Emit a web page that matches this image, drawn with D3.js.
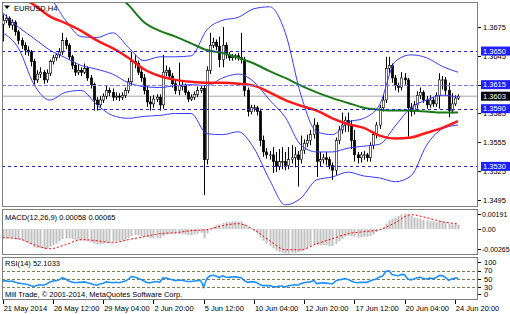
<!DOCTYPE html>
<html>
<head>
<meta charset="utf-8">
<script src="https://cdn.jsdelivr.net/npm/d3@7/dist/d3.min.js"></script>
<style>
body { margin: 0; background: #fff; }
text { font-family: "Liberation Sans", Arial, sans-serif; font-size: 7.5px; fill: #000; }
</style>
</head>
<body>
<div id="chart"></div>
<script>
const width = 510;
const height = 314;
const symbolTitle = "EURUSD,H4";
const macdTitle = "MACD(12,26,9) 0.00058 0.00065";
const rsiTitle = "RSI(14) 52.1033";
const copyright = "Mill Trade, © 2001-2014, MetaQuotes Software Corp.";

// H4 candles, one per bar, oldest first
const open = [
1.3678,1.3682,1.3684,1.3677,1.3680,1.3670,1.3661,1.3656,1.3651,1.3649,
1.3639,1.3620,1.3626,1.3628,1.3620,1.3627,1.3639,1.3643,1.3646,1.3649,
1.3661,1.3656,1.3644,1.3635,1.3628,1.3630,1.3628,1.3632,1.3622,1.3615,
1.3599,1.3594,1.3599,1.3603,1.3609,1.3607,1.3602,1.3603,1.3602,1.3604,
1.3609,1.3618,1.3639,1.3637,1.3628,1.3622,1.3609,1.3597,1.3595,1.3600,
1.3602,1.3594,1.3628,1.3630,1.3624,1.3616,1.3609,1.3614,1.3614,1.3607,
1.3600,1.3602,1.3605,1.3609,1.3611,1.3537,1.3630,1.3656,1.3659,1.3655,
1.3641,1.3656,1.3646,1.3643,1.3644,1.3645,1.3643,1.3641,1.3609,1.3587,
1.3591,1.3591,1.3587,1.3557,1.3545,1.3542,1.3542,1.3535,1.3530,1.3535,
1.3535,1.3531,1.3537,1.3539,1.3542,1.3537,1.3547,1.3554,1.3557,1.3563,
1.3573,1.3535,1.3537,1.3539,1.3537,1.3531,1.3526,1.3557,1.3568,1.3573,
1.3578,1.3573,1.3557,1.3542,1.3539,1.3542,1.3542,1.3539,1.3552,1.3563,
1.3573,1.3591,1.3599,1.3632,1.3635,1.3622,1.3614,1.3612,1.3622,1.3620,
1.3591,1.3587,1.3594,1.3604,1.3607,1.3599,1.3594,1.3599,1.3595,1.3604,
1.3620,1.3620,1.3609,1.3588,1.3595,1.3601];
const close = [
1.3682,1.3684,1.3677,1.3680,1.3670,1.3661,1.3656,1.3651,1.3649,1.3639,
1.3620,1.3626,1.3628,1.3620,1.3627,1.3639,1.3643,1.3646,1.3649,1.3661,
1.3656,1.3644,1.3635,1.3628,1.3630,1.3628,1.3632,1.3622,1.3615,1.3599,
1.3594,1.3599,1.3603,1.3609,1.3607,1.3602,1.3603,1.3602,1.3604,1.3609,
1.3618,1.3639,1.3637,1.3628,1.3622,1.3609,1.3597,1.3595,1.3600,1.3602,
1.3594,1.3628,1.3630,1.3624,1.3616,1.3609,1.3614,1.3614,1.3607,1.3600,
1.3602,1.3605,1.3609,1.3611,1.3537,1.3630,1.3656,1.3659,1.3655,1.3641,
1.3656,1.3646,1.3643,1.3644,1.3645,1.3643,1.3641,1.3609,1.3587,1.3591,
1.3591,1.3587,1.3557,1.3545,1.3542,1.3542,1.3535,1.3530,1.3535,1.3535,
1.3531,1.3537,1.3539,1.3542,1.3537,1.3547,1.3554,1.3557,1.3563,1.3573,
1.3535,1.3537,1.3539,1.3537,1.3531,1.3526,1.3557,1.3568,1.3573,1.3578,
1.3573,1.3557,1.3542,1.3539,1.3542,1.3542,1.3539,1.3552,1.3563,1.3573,
1.3591,1.3599,1.3632,1.3635,1.3622,1.3614,1.3612,1.3622,1.3620,1.3591,
1.3587,1.3594,1.3604,1.3607,1.3599,1.3594,1.3599,1.3595,1.3604,1.3620,
1.3620,1.3609,1.3588,1.3595,1.3601,1.3603];
const high = [
1.3688,1.3688,1.3686,1.3683,1.3682,1.3672,1.3664,1.3659,1.3655,1.3651,
1.3642,1.3630,1.3633,1.3630,1.3631,1.3641,1.3646,1.3648,1.3653,1.3669,
1.3664,1.3658,1.3646,1.3638,1.3636,1.3633,1.3637,1.3634,1.3625,1.3617,
1.3602,1.3603,1.3606,1.3614,1.3612,1.3611,1.3607,1.3606,1.3607,1.3612,
1.3622,1.3649,1.3646,1.3640,1.3631,1.3626,1.3614,1.3603,1.3604,1.3605,
1.3605,1.3646,1.3635,1.3633,1.3627,1.3620,1.3638,1.3619,1.3616,1.3609,
1.3605,1.3608,1.3613,1.3614,1.3614,1.3634,1.3669,1.3664,1.3662,1.3665,
1.3675,1.3659,1.3649,1.3647,1.3647,1.3648,1.3669,1.3644,1.3612,1.3594,
1.3594,1.3593,1.3590,1.3562,1.3549,1.3546,1.3550,1.3545,1.3548,1.3550,
1.3545,1.3550,1.3552,1.3550,1.3546,1.3562,1.3558,1.3563,1.3568,1.3580,
1.3576,1.3545,1.3543,1.3545,1.3540,1.3534,1.3560,1.3572,1.3586,1.3582,
1.3586,1.3578,1.3568,1.3545,1.3545,1.3546,1.3544,1.3555,1.3566,1.3576,
1.3594,1.3604,1.3644,1.3644,1.3637,1.3625,1.3617,1.3628,1.3627,1.3622,
1.3596,1.3598,1.3608,1.3612,1.3609,1.3603,1.3604,1.3602,1.3607,1.3627,
1.3624,1.3623,1.3617,1.3606,1.3604,1.3605];
const low = [
1.3660,1.3679,1.3674,1.3672,1.3666,1.3657,1.3652,1.3646,1.3645,1.3634,
1.3615,1.3617,1.3622,1.3616,1.3617,1.3624,1.3636,1.3640,1.3643,1.3646,
1.3652,1.3641,1.3631,1.3624,1.3625,1.3624,1.3626,1.3619,1.3611,1.3588,
1.3588,1.3591,1.3596,1.3600,1.3603,1.3598,1.3599,1.3598,1.3599,1.3601,
1.3606,1.3614,1.3632,1.3625,1.3618,1.3605,1.3592,1.3588,1.3591,1.3597,
1.3588,1.3590,1.3624,1.3620,1.3612,1.3605,1.3604,1.3609,1.3604,1.3597,
1.3598,1.3599,1.3602,1.3606,1.3500,1.3532,1.3626,1.3653,1.3651,1.3633,
1.3633,1.3642,1.3640,1.3640,1.3641,1.3640,1.3637,1.3603,1.3582,1.3584,
1.3587,1.3583,1.3551,1.3540,1.3538,1.3537,1.3523,1.3524,1.3526,1.3527,
1.3526,1.3527,1.3533,1.3529,1.3509,1.3533,1.3543,1.3550,1.3552,1.3559,
1.3519,1.3530,1.3533,1.3531,1.3527,1.3516,1.3521,1.3553,1.3564,1.3566,
1.3566,1.3548,1.3535,1.3533,1.3534,1.3537,1.3535,1.3535,1.3548,1.3559,
1.3569,1.3587,1.3596,1.3627,1.3617,1.3609,1.3607,1.3609,1.3615,1.3561,
1.3582,1.3584,1.3590,1.3600,1.3596,1.3590,1.3591,1.3592,1.3592,1.3590,
1.3610,1.3604,1.3581,1.3585,1.3593,1.3599];

// indicator lines, read every 5th bar
const lineIdx = [0,5,10,15,20,25,30,35,40,45,50,55,60,65,70,75,80,85,90,95,100,105,110,115,120,125,130,135,140,145];
const maRed = [1.3713,1.3707,1.3698,1.3686,1.3679,1.3671,1.3661,1.3653,1.3643,1.3631,1.3624,1.3620,1.3618,1.3617,1.3617,1.3616,1.3614,1.3607,1.3599,1.3593,1.3588,1.3580,1.3574,1.3570,1.3562,1.3559,1.3560,1.3565,1.3570,1.3577];
const maGreen = [null,null,null,null,null,null,null,1.3712,1.3698,1.3680,1.3671,1.3665,1.3658,1.3651,1.3648,1.3643,1.3637,1.3629,1.3622,1.3614,1.3607,1.3601,1.3596,1.3591,1.3589,1.3588,1.3588,1.3587,1.3586,1.3586];
const bbUpper = [1.3729,1.3719,1.3711,1.3705,1.3682,1.3665,1.3664,1.3669,1.3654,1.3640,1.3644,1.3644,1.3645,1.3672,1.3682,1.3685,1.3694,1.3696,1.3669,1.3604,1.3566,1.3563,1.3576,1.3580,1.3594,1.3639,1.3646,1.3643,1.3634,1.3628];
const bbMiddle = [1.3690,1.3675,1.3663,1.3651,1.3643,1.3635,1.3631,1.3626,1.3617,1.3613,1.3612,1.3614,1.3615,1.3614,1.3622,1.3626,1.3618,1.3599,1.3581,1.3552,1.3545,1.3545,1.3549,1.3551,1.3553,1.3572,1.3591,1.3599,1.3604,1.3602];
const bbLower = [1.3669,1.3653,1.3615,1.3599,1.3607,1.3609,1.3594,1.3583,1.3580,1.3582,1.3583,1.3585,1.3585,1.3564,1.3563,1.3566,1.3549,1.3516,1.3490,1.3497,1.3516,1.3519,1.3524,1.3520,1.3518,1.3514,1.3520,1.3552,1.3569,1.3573];

const macdHist = [
-0.0012,-0.0012,-0.0012,-0.0012,-0.0013,-0.0014,-0.0015,-0.0016,-0.0018,-0.0020,
-0.0024,-0.0025,-0.0025,-0.0026,-0.0025,-0.0023,-0.0021,-0.0019,-0.0016,-0.0013,
-0.0012,-0.0012,-0.0013,-0.0014,-0.0014,-0.0015,-0.0015,-0.0016,-0.0017,-0.0019,
-0.0020,-0.0020,-0.0019,-0.0018,-0.0017,-0.0017,-0.0016,-0.0016,-0.0015,-0.0014,
-0.0012,-0.0009,-0.0008,-0.0008,-0.0009,-0.0010,-0.0011,-0.0012,-0.0012,-0.0012,
-0.0012,-0.0009,-0.0007,-0.0006,-0.0006,-0.0007,-0.0007,-0.0007,-0.0007,-0.0008,
-0.0008,-0.0007,-0.0006,-0.0005,-0.0012,-0.0006,-0.0001,0.0003,0.0005,0.0006,
0.0008,0.0009,0.0009,0.0010,0.0010,0.0010,0.0010,0.0007,0.0003,0.0000,
-0.0003,-0.0006,-0.0011,-0.0015,-0.0019,-0.0022,-0.0025,-0.0028,-0.0030,-0.0031,
-0.0032,-0.0032,-0.0031,-0.0031,-0.0030,-0.0029,-0.0027,-0.0025,-0.0023,-0.0020,
-0.0021,-0.0021,-0.0021,-0.0021,-0.0022,-0.0022,-0.0019,-0.0016,-0.0013,-0.0010,
-0.0009,-0.0009,-0.0010,-0.0011,-0.0011,-0.0010,-0.0010,-0.0009,-0.0007,-0.0004,
-0.0001,0.0002,0.0007,0.0011,0.0013,0.0015,0.0017,0.0019,0.0020,0.0019,
0.0017,0.0015,0.0014,0.0013,0.0012,0.0011,0.0010,0.0010,0.0009,0.0010,
0.0010,0.0009,0.0007,0.0006,0.0006,0.00058];
const macdSignal = [-0.00113,-0.00126,-0.00204,-0.00256,-0.00204,-0.00139,-0.00152,-0.00178,-0.00139,-0.00100,-0.00061,-0.00048,-0.00022,-0.00009,0.00043,0.00069,-0.00009,-0.00152,-0.00269,-0.00269,-0.00191,-0.00126,-0.00061,-0.00035,-0.00009,0.00082,0.00186,0.00147,0.00095,0.00065];

const rsi = [
45,46,44,45,42,40,39,38,37,34,
32,35,36,35,38,43,45,46,48,53,
50,45,43,41,42,42,43,41,39,36,
35,38,40,43,42,41,42,41,43,45,
49,56,55,52,49,45,41,41,43,44,
42,52,52,50,48,46,47,47,45,44,
44,45,46,47,31,51,57,59,57,53,
58,55,54,55,55,54,53,46,42,43,
43,41,36,34,34,34,32,31,33,33,
31,34,35,36,35,39,41,42,43,47,
39,40,41,40,39,38,45,48,49,51,
49,45,42,41,42,42,42,45,48,50,
55,57,68,70,61,59,58,61,60,50,
48,50,53,54,51,50,52,51,53,58,
58,54,47,50,52,52.1];
const rsiLevels = [70, 50, 30];
const rsiTicks = [100, 70, 50, 30, 0];

const priceTicks = [1.3675, 1.3645, 1.3615, 1.3585, 1.3555, 1.3525, 1.3495];
const levelLines = [1.3650, 1.3615, 1.3590, 1.3530];
const bidPrice = 1.3603;
const macdTicks = [0.00191, 0, -0.00265];
const macdTickText = ["0.00191", "0.00", "-0.00265"];

const timeIdx = [0, 16, 32, 48, 64, 80, 96, 112, 128, 144];
const timeLabels = ["21 May 2014", "26 May 12:00", "29 May 04:00", "2 Jun 20:00", "5 Jun 12:00",
                    "10 Jun 04:00", "12 Jun 20:00", "17 Jun 12:00", "20 Jun 04:00", "24 Jun 20:00"];

// layout
const left = 2, right = 478;
const mainTop = 2, mainBottom = 207;
const macdTop = 209, macdBottom = 255;
const rsiTop = 257, rsiBottom = 300;
const frameColor = "#808080";
const levelBlue = "#1f1fff";

const x = d3.scaleLinear().domain([0, 145]).range([2.7, 458]);
const yPrice = d3.scaleLinear().domain([1.3495, 1.3675]).range([200, 27]);
const yMacd = d3.scaleLinear().domain([-0.00265, 0.00191]).range([249.4, 214.3]);
const yRsi = d3.scaleLinear().domain([0, 100]).range([299.8, 258.2]);

const svg = d3.select("#chart")
    .append("svg")
        .attr("width", width)
        .attr("height", height)
        .style("background", "#fff");

const defs = svg.append("defs");
[["clipMain", mainTop, mainBottom], ["clipMacd", macdTop, macdBottom], ["clipRsi", rsiTop, rsiBottom]]
    .forEach(c => {
        defs.append("clipPath").attr("id", c[0])
            .append("rect")
            .attr("x", left).attr("y", c[1])
            .attr("width", right - left).attr("height", c[2] - c[1]);
    });

function sampled(vals) {
    return lineIdx.map((i, k) => ({i: i, v: vals[k]}));
}

// ---------- main price window ----------
const main = svg.append("g").attr("clip-path", "url(#clipMain)");

main.append("line")
    .attr("x1", left).attr("x2", right)
    .attr("y1", yPrice(bidPrice)).attr("y2", yPrice(bidPrice))
    .attr("stroke", "#a8a8a8").attr("stroke-width", 1);

const bars = d3.range(close.length);

main.append("g").selectAll("line")
    .data(bars)
    .enter()
    .append("line")
        .attr("x1", i => Math.round(x(i)) + 0.5)
        .attr("x2", i => Math.round(x(i)) + 0.5)
        .attr("y1", i => yPrice(high[i]))
        .attr("y2", i => yPrice(low[i]))
        .attr("stroke", "#000")
        .attr("stroke-width", 1);

main.append("g").selectAll("rect")
    .data(bars)
    .enter()
    .append("rect")
        .attr("x", i => Math.round(x(i)) - 0.7)
        .attr("width", 2.4)
        .attr("y", i => yPrice(Math.max(open[i], close[i])))
        .attr("height", i => Math.max(0.8, Math.abs(yPrice(open[i]) - yPrice(close[i]))))
        .attr("fill", i => close[i] >= open[i] ? "#fff" : "#000")
        .attr("stroke", "#000")
        .attr("stroke-width", 0.6);

const priceLine = d3.line()
    .defined(d => d.v != null)
    .x(d => x(d.i))
    .y(d => yPrice(d.v))
    .curve(d3.curveMonotoneX);

[bbUpper, bbMiddle, bbLower].forEach(vals => {
    main.append("path")
        .attr("d", priceLine(sampled(vals)))
        .attr("fill", "none")
        .attr("stroke", "#3a3aff")
        .attr("stroke-width", 1);
});

main.append("path")
    .attr("d", priceLine(sampled(maGreen)))
    .attr("fill", "none")
    .attr("stroke", "#1a7a1a")
    .attr("stroke-width", 2);

main.append("path")
    .attr("d", priceLine(sampled(maRed)))
    .attr("fill", "none")
    .attr("stroke", "#ff1a1a")
    .attr("stroke-width", 2.5);

main.append("g").selectAll("line")
    .data(levelLines)
    .enter()
    .append("line")
        .attr("x1", left).attr("x2", right)
        .attr("y1", d => Math.round(yPrice(d)) + 0.5)
        .attr("y2", d => Math.round(yPrice(d)) + 0.5)
        .attr("stroke", d => d === 1.3615 ? "#7b7bff" : "#2222dd")
        .attr("stroke-dasharray", d => d === 1.3615 ? "4,2" : "3,3")
        .attr("stroke-width", 1);

// title with the small dropdown triangle
svg.append("path")
    .attr("d", "M4,5.5L10,5.5L7,9Z")
    .attr("fill", "#000");
svg.append("text")
    .attr("x", 14).attr("y", 10.5)
    .text(symbolTitle);

// ---------- MACD window ----------
const macd = svg.append("g").attr("clip-path", "url(#clipMacd)");

macd.append("g").selectAll("rect")
    .data(bars)
    .enter()
    .append("rect")
        .attr("x", i => Math.round(x(i)) - 0.5)
        .attr("width", 2)
        .attr("y", i => Math.min(yMacd(0), yMacd(macdHist[i])))
        .attr("height", i => Math.abs(yMacd(macdHist[i]) - yMacd(0)))
        .attr("fill", "#c0c0c0");

macd.append("path")
    .attr("d", d3.line().x(d => x(d.i)).y(d => yMacd(d.v)).curve(d3.curveMonotoneX)(sampled(macdSignal)))
    .attr("fill", "none")
    .attr("stroke", "#ff0000")
    .attr("stroke-width", 1)
    .attr("stroke-dasharray", "2,2");

svg.append("text")
    .attr("x", 5).attr("y", 219.5)
    .text(macdTitle);

// ---------- RSI window ----------
const rsiG = svg.append("g").attr("clip-path", "url(#clipRsi)");

rsiG.append("g").selectAll("line")
    .data(rsiLevels)
    .enter()
    .append("line")
        .attr("x1", left).attr("x2", right)
        .attr("y1", d => Math.round(yRsi(d)) + 0.5)
        .attr("y2", d => Math.round(yRsi(d)) + 0.5)
        .attr("stroke", "#7d7d52")
        .attr("stroke-dasharray", "3,2")
        .attr("stroke-width", 1);

rsiG.append("path")
    .attr("d", d3.line().x((d, i) => x(i)).y(d => yRsi(d))(rsi))
    .attr("fill", "none")
    .attr("stroke", "#1e90ff")
    .attr("stroke-width", 1.6);

svg.append("text")
    .attr("x", 5).attr("y", 266)
    .text(rsiTitle);

svg.append("text")
    .attr("x", 5).attr("y", 297)
    .text(copyright);

// ---------- frames ----------
[[mainTop, mainBottom], [macdTop, macdBottom], [rsiTop, rsiBottom]].forEach(p => {
    svg.append("rect")
        .attr("x", left + 0.5).attr("y", p[0] + 0.5)
        .attr("width", right - left - 1).attr("height", p[1] - p[0] - 1)
        .attr("fill", "none")
        .attr("stroke", frameColor)
        .attr("stroke-width", 1);
});

// ---------- right price scale ----------
const axisG = svg.append("g");

axisG.selectAll(".ptick")
    .data(priceTicks)
    .enter()
    .append("line")
        .attr("x1", right).attr("x2", right + 3)
        .attr("y1", d => Math.round(yPrice(d)) + 0.5)
        .attr("y2", d => Math.round(yPrice(d)) + 0.5)
        .attr("stroke", "#000");

// a tick label that sits exactly under a level box is not drawn
axisG.selectAll(".plabel")
    .data(priceTicks.filter(d => levelLines.indexOf(d) < 0))
    .enter()
    .append("text")
        .attr("x", right + 5)
        .attr("y", d => yPrice(d) + 2.8)
        .text(d => d.toFixed(4));

levelLines.forEach(v => {
    axisG.append("rect")
        .attr("x", right + 3).attr("y", yPrice(v) - 4.5)
        .attr("width", 29).attr("height", 9)
        .attr("fill", levelBlue);
    axisG.append("text")
        .attr("x", right + 5).attr("y", yPrice(v) + 2.8)
        .style("fill", "#fff")
        .text(v.toFixed(4));
});

axisG.append("rect")
    .attr("x", right + 3).attr("y", yPrice(bidPrice) - 4.5)
    .attr("width", 29).attr("height", 9)
    .attr("fill", "#000");
axisG.append("text")
    .attr("x", right + 5).attr("y", yPrice(bidPrice) + 2.8)
    .style("fill", "#fff")
    .text(bidPrice.toFixed(4));

// MACD scale
macdTicks.forEach((v, k) => {
    axisG.append("line")
        .attr("x1", right).attr("x2", right + 3)
        .attr("y1", Math.round(yMacd(v)) + 0.5).attr("y2", Math.round(yMacd(v)) + 0.5)
        .attr("stroke", "#000");
    axisG.append("text")
        .attr("x", right + 4).attr("y", yMacd(v) + 2.8)
        .style("font-size", "7px")
        .text(macdTickText[k]);
});

// RSI scale, end labels pulled inside the window
rsiTicks.forEach(v => {
    const ty = v === 100 ? yRsi(v) + 4 : v === 0 ? yRsi(v) - 5.5 : yRsi(v);
    axisG.append("line")
        .attr("x1", right).attr("x2", right + 3)
        .attr("y1", Math.round(ty) + 0.5).attr("y2", Math.round(ty) + 0.5)
        .attr("stroke", "#000");
    axisG.append("text")
        .attr("x", right + 6).attr("y", ty + 2.8)
        .text(v);
});

// ---------- time axis ----------
timeIdx.forEach((i, k) => {
    axisG.append("line")
        .attr("x1", Math.round(x(i)) + 0.5).attr("x2", Math.round(x(i)) + 0.5)
        .attr("y1", rsiBottom).attr("y2", rsiBottom + 4)
        .attr("stroke", "#000");
    axisG.append("text")
        .attr("x", x(i) + 1).attr("y", 310.5)
        .text(timeLabels[k]);
});
</script>
</body>
</html>
